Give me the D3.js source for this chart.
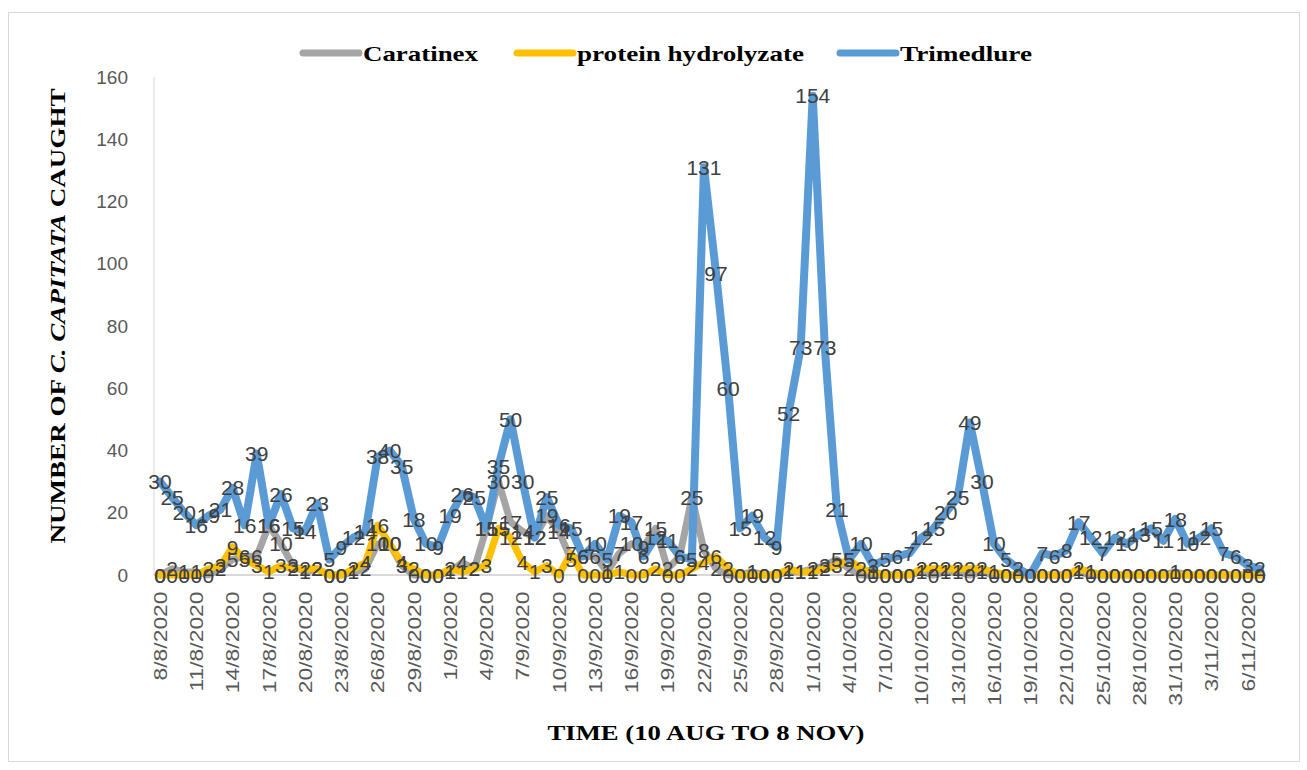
<!DOCTYPE html>
<html>
<head>
<meta charset="utf-8">
<script src="https://cdn.jsdelivr.net/npm/d3@7"></script>
<style>
  body { margin: 0; background: #fff; }
  .tick text { font-family: "Liberation Sans", Arial, sans-serif; fill: #595959; }
  .lbl { font-family: "Liberation Sans", Arial, sans-serif; fill: #404040; font-size: 21px; }
  .ttl { font-family: "Liberation Serif", "Times New Roman", serif; font-weight: bold; fill: #000; }
</style>
</head>
<body>
<svg class="chart"></svg>
<script>
// categories (one per day)
var dates = [
  "8/8/2020","9/8/2020","10/8/2020","11/8/2020","12/8/2020","13/8/2020","14/8/2020","15/8/2020","16/8/2020","17/8/2020",
  "18/8/2020","19/8/2020","20/8/2020","21/8/2020","22/8/2020","23/8/2020","24/8/2020","25/8/2020","26/8/2020","27/8/2020",
  "28/8/2020","29/8/2020","30/8/2020","31/8/2020","1/9/2020","2/9/2020","3/9/2020","4/9/2020","5/9/2020","6/9/2020",
  "7/9/2020","8/9/2020","9/9/2020","10/9/2020","11/9/2020","12/9/2020","13/9/2020","14/9/2020","15/9/2020","16/9/2020",
  "17/9/2020","18/9/2020","19/9/2020","20/9/2020","21/9/2020","22/9/2020","23/9/2020","24/9/2020","25/9/2020","26/9/2020",
  "27/9/2020","28/9/2020","29/9/2020","30/9/2020","1/10/2020","2/10/2020","3/10/2020","4/10/2020","5/10/2020","6/10/2020",
  "7/10/2020","8/10/2020","9/10/2020","10/10/2020","11/10/2020","12/10/2020","13/10/2020","14/10/2020","15/10/2020","16/10/2020",
  "17/10/2020","18/10/2020","19/10/2020","20/10/2020","21/10/2020","22/10/2020","23/10/2020","24/10/2020","25/10/2020","26/10/2020",
  "27/10/2020","28/10/2020","29/10/2020","30/10/2020","31/10/2020","1/11/2020","2/11/2020","3/11/2020","4/11/2020","5/11/2020",
  "6/11/2020","7/11/2020"
];

var caratinex = [
  0,2,1,1,0,2,5,6,6,16, 10,3,1,2,0,0,1,2,10,10, 3,0,0,0,1,4,2,15,30,17,
  14,12,19,14,5,6,6,1,7,10, 9,15,2,6,25,8,2,0,0,1, 0,0,1,1,2,3,5,2,0,0,
  0,0,0,1,0,1,1,0,1,0, 0,0,0,0,0,0,1,0,0,0, 0,0,0,0,1,0,0,0,0,0, 0,0
];
var protein = [
  0,0,0,0,2,3,9,5,3,1, 3,2,2,2,0,0,2,4,16,10, 4,2,0,0,2,1,2,3,15,12,
  4,1,3,0,7,0,0,0,1,0, 0,2,0,0,2,4,6,2,0,0, 0,0,2,1,1,2,3,5,2,1,
  0,0,0,2,2,2,2,2,2,1, 0,0,0,0,0,0,2,1,0,0, 0,0,0,0,0,0,0,0,0,0, 0,0
];
var trimedlure = [
  30,25,20,16,19,21,28,16,39,16, 26,15,14,23,5,9,12,14,38,40, 35,18,10,9,19,26,25,15,35,50,
  30,12,25,16,15,6,10,5,19,17, 6,12,11,6,5,131,97,60,15,19, 12,9,52,73,154,73,21,5,10,3,
  5,6,7,12,15,20,25,49,30,10, 5,2,0,7,6,8,17,12,7,12, 10,13,15,11,18,10,12,15,7,6, 3,2
];

var seriesNames = ["Caratinex", "protein hydrolyzate", "Trimedlure"];
var seriesColors = ["#a5a5a5", "#ffc000", "#5b9bd5"];
var yTicks = [0, 20, 40, 60, 80, 100, 120, 140, 160];

var W = 1307, H = 770;
var plot = {left: 154, right: 1266, top: 77, bottom: 575};

var svg = d3.select('.chart').attr('width', W).attr('height', H);

// outer chart border
svg.append('rect')
  .attr('x', 8.5).attr('y', 12.5)
  .attr('width', 1291).attr('height', 749)
  .attr('fill', '#fff').attr('stroke', '#d9d9d9');

var x = d3.scalePoint().domain(dates).range([plot.left, plot.right]).padding(0.5),
    y = d3.scaleLinear().domain([0, 160]).range([plot.bottom, plot.top]);

// axis lines
svg.append('line')
  .attr('x1', plot.left).attr('x2', plot.right)
  .attr('y1', plot.bottom).attr('y2', plot.bottom)
  .attr('stroke', '#d9d9d9').attr('stroke-width', 2);
svg.append('line')
  .attr('x1', plot.left).attr('x2', plot.left)
  .attr('y1', plot.top).attr('y2', plot.bottom)
  .attr('stroke', '#e3e3e3').attr('stroke-width', 1.5);

// y axis
var gy = svg.append('g')
  .attr('transform', 'translate(' + plot.left + ',0)')
  .call(d3.axisLeft(y).tickValues(yTicks).tickSize(0).tickPadding(26));
gy.select('.domain').remove();
gy.selectAll('.tick text').style('font-size', '19px');

// x axis, a label every third day
var gx = svg.append('g')
  .attr('transform', 'translate(0,' + plot.bottom + ')')
  .call(d3.axisBottom(x).tickValues(dates.filter(function(d, i) { return i % 3 === 0; })).tickSize(0));
gx.select('.domain').remove();
gx.selectAll('.tick text')
  .style('font-size', '18px')
  .attr('text-anchor', 'end')
  .attr('transform', 'rotate(-90) scale(1.27,1)')
  .attr('x', -13)
  .attr('y', 0)
  .attr('dy', '0.35em');

var all = [caratinex, protein, trimedlure];

var line = d3.line()
  .x(function(d, i) { return x(dates[i]); })
  .y(function(d) { return y(d); });

svg.selectAll('.series')
  .data(all)
  .enter().append('path')
    .attr('class', 'series')
    .attr('d', line)
    .attr('fill', 'none')
    .attr('stroke', function(d, i) { return seriesColors[i]; })
    .attr('stroke-width', function(d, i) { return i === 2 ? 8 : 7; })
    .attr('stroke-linejoin', 'round')
    .attr('stroke-linecap', 'round');

// data labels, centred on the points
all.forEach(function(vals) {
  svg.append('g').selectAll('text')
    .data(vals)
    .enter().append('text')
      .attr('class', 'lbl')
      .attr('x', function(d, i) { return x(dates[i]); })
      .attr('y', function(d) { return y(d); })
      .attr('text-anchor', 'middle')
      .attr('dy', '0.36em')
      .text(function(d) { return d; });
});

// legend
var legX = [303, 517, 840],
    legW = [115, 227, 132];
var leg = svg.selectAll('.leg')
  .data(seriesNames)
  .enter().append('g')
    .attr('class', 'leg')
    .attr('transform', function(d, i) { return 'translate(' + legX[i] + ',53)'; });
leg.append('line')
  .attr('x1', 0).attr('x2', 56)
  .attr('stroke', function(d, i) { return seriesColors[i]; })
  .attr('stroke-width', 7)
  .attr('stroke-linecap', 'round');
leg.append('text')
  .attr('class', 'ttl')
  .attr('x', 60)
  .attr('dy', '0.35em')
  .style('font-size', '22px')
  .attr('textLength', function(d, i) { return legW[i]; })
  .attr('lengthAdjust', 'spacingAndGlyphs')
  .text(function(d) { return d; });

// axis titles
svg.append('text')
  .attr('class', 'ttl')
  .attr('x', 706).attr('y', 740)
  .attr('text-anchor', 'middle')
  .style('font-size', '22px')
  .attr('textLength', 317)
  .attr('lengthAdjust', 'spacingAndGlyphs')
  .text('TIME  (10 AUG TO 8 NOV)');

var yt = svg.append('text')
  .attr('class', 'ttl')
  .attr('transform', 'translate(65,316) rotate(-90)')
  .attr('text-anchor', 'middle')
  .style('font-size', '22px')
  .attr('textLength', 455)
  .attr('lengthAdjust', 'spacingAndGlyphs');
yt.append('tspan').text('NUMBER OF ');
yt.append('tspan').style('font-style', 'italic').text('C. CAPITATA');
yt.append('tspan').text(' CAUGHT');
</script>
</body>
</html>
